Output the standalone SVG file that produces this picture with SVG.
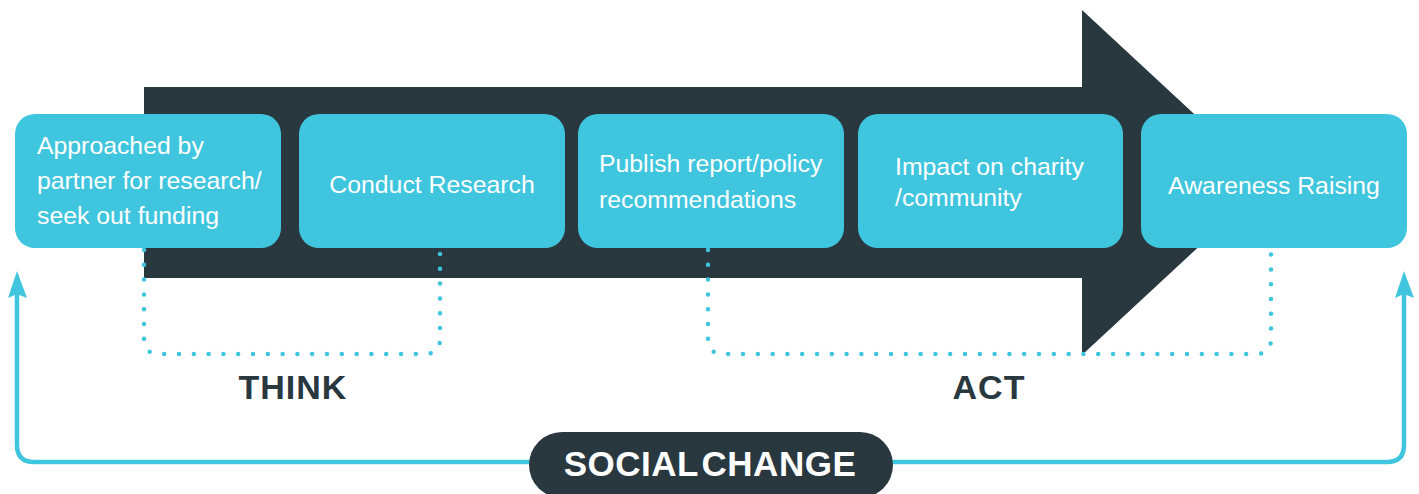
<svg xmlns="http://www.w3.org/2000/svg" width="1419" height="494" viewBox="0 0 1419 494">
<defs>
<style>
.box{fill:#40C5DE}
.bt{fill:#ffffff;font-family:"Liberation Sans",Arial,sans-serif;font-size:24.8px}
.dot{fill:none;stroke:#40C5DE;stroke-width:4.5;stroke-linecap:round;stroke-dasharray:0 14.8}
.loop{fill:none;stroke:#40C5DE;stroke-width:4.5}
.lbl{fill:#29373F;font-family:"Liberation Sans",Arial,sans-serif;font-size:34px;font-weight:bold;letter-spacing:1px}
</style>
</defs>
<rect width="1419" height="494" fill="#ffffff"/>
<g id="big-arrow">
<polygon points="144,87 1082,87 1082,10 1268,182.5 1082,355 1082,278 144,278" fill="#29373F"/>
</g>
<g id="connectors">
<path class="dot" d="M144,250 V339 Q144,354 159,354 H425 Q440,354 440,339 V250"/>
<path class="dot" d="M708,250 V339 Q708,354 723,354 H1256 Q1271,354 1271,339 V250"/>
<path class="loop" d="M17,292 V445 Q17,462 34,462 H1387 Q1404,462 1404,445 V292"/>
<polygon points="17,271 27,298 17,294 8,298" fill="#40C5DE"/>
<polygon points="1404,271 1414,298 1404,294 1395,298" fill="#40C5DE"/>
</g>
<g id="n1">
<rect class="box" x="15" y="114" width="266" height="134" rx="20"/>
<text class="bt" x="37" y="154">Approached by</text>
<text class="bt" x="37" y="189">partner for research/</text>
<text class="bt" x="37" y="224">seek out funding</text>
</g>
<g id="n2">
<rect class="box" x="299" y="114" width="266" height="134" rx="20"/>
<text class="bt" x="432" y="193" text-anchor="middle">Conduct Research</text>
</g>
<g id="n3">
<rect class="box" x="578" y="114" width="266" height="134" rx="20"/>
<text class="bt" x="599" y="172">Publish report/policy</text>
<text class="bt" x="599" y="208">recommendations</text>
</g>
<g id="n4">
<rect class="box" x="858" y="114" width="265" height="134" rx="20"/>
<text class="bt" x="895" y="175">Impact on charity</text>
<text class="bt" x="895" y="206">/community</text>
</g>
<g id="n5">
<rect class="box" x="1141" y="114" width="266" height="134" rx="20"/>
<text class="bt" x="1274" y="194" text-anchor="middle">Awareness Raising</text>
</g>
<g id="think">
<text class="lbl" x="293" y="399" text-anchor="middle">THINK</text>
</g>
<g id="act">
<text class="lbl" x="989" y="399" text-anchor="middle">ACT</text>
</g>
<g id="social-change">
<rect x="529" y="432" width="364" height="66" rx="33" fill="#29373F"/>
<text x="710" y="476" text-anchor="middle" fill="#ffffff" font-family="'Liberation Sans',Arial,sans-serif" font-size="35" font-weight="bold" letter-spacing="0.5" word-spacing="-7">SOCIAL CHANGE</text>
</g>
</svg>
